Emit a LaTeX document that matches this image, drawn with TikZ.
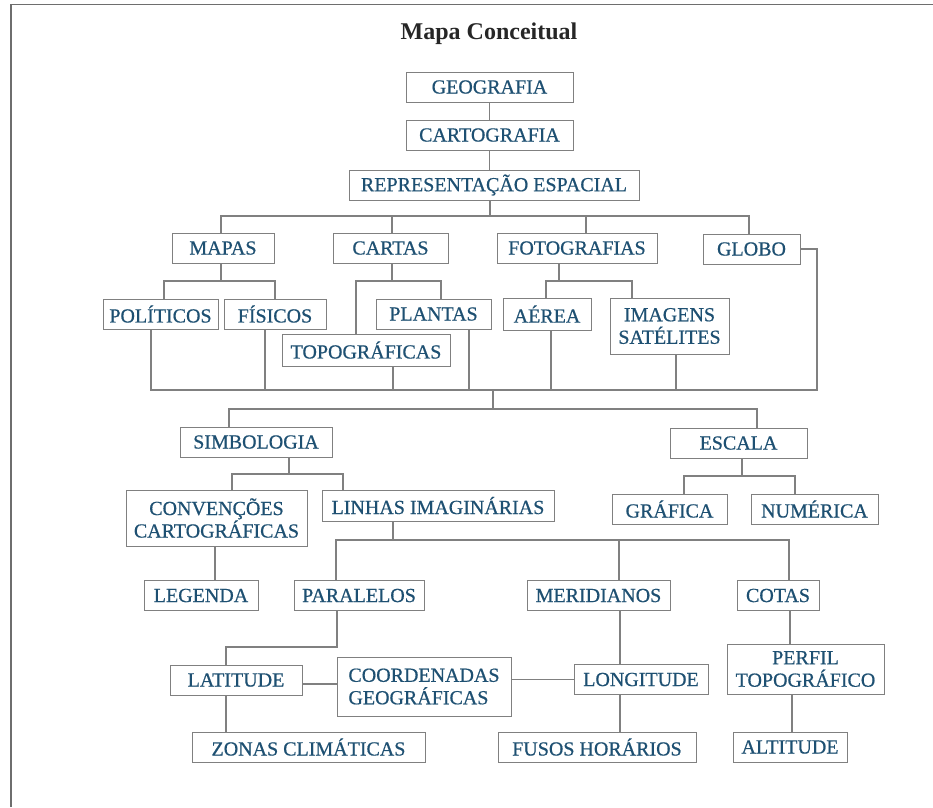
\documentclass[tikz,border=0pt]{standalone}
\usepackage{fontspec}
\setmainfont{Liberation Serif}
\newfontface\boxfont{Liberation Serif}[FakeBold=0.6]
\usetikzlibrary{positioning}
\definecolor{txtblue}{RGB}{30,80,114}
\definecolor{boxgray}{RGB}{128,128,128}
\definecolor{framegray}{RGB}{110,110,110}
\tikzset{
  box/.style={draw=boxgray, line width=1pt, fill=white, text=txtblue,
    font=\boxfont\fontsize{20}{22.5}\selectfont, inner sep=2pt, align=center,
    minimum height=30pt},
  link/.style={draw=boxgray, line width=1.1pt}
}

\begin{document}
\begin{tikzpicture}[x=1pt, y=-1pt]
      \useasboundingbox (0,0) rectangle (933,807);
      \draw[framegray, line width=1.2pt] (11,807) |- (933,4.5);
      \node[font=\bfseries\fontsize{24}{28}\selectfont, text=black!85] (title) at (489,34) {Mapa Conceitual};

      \node[box, minimum width=167pt] (geo) at (489.5,87) {GEOGRAFIA};
      \node[box, minimum width=167pt, below=17pt of geo] (carto) {CARTOGRAFIA};
      \node[box, minimum width=290pt, below=19pt of carto, xshift=4.5pt] (rep) {REPRESENTAÇÃO ESPACIAL};

      \node[box, minimum width=102pt] (mapas) at (223,248) {MAPAS};
      \node[box, minimum width=115pt, right=58pt of mapas] (cartas) {CARTAS};
      \node[box, minimum width=160pt, right=48pt of cartas] (foto) {FOTOGRAFIAS};
      \node[box, minimum width=97pt, right=45pt of foto, yshift=-1pt] (globo) {GLOBO};

      \node[box, minimum width=115pt] (politicos) at (160.5,314) {POLÍTICOS};
      \node[box, minimum width=102pt, right=5pt of politicos] (fisicos) {FÍSICOS};
      \node[box, minimum width=115pt, right=49pt of fisicos] (plantas) {PLANTAS};
      \node[box, minimum width=88pt, minimum height=32pt, right=11pt of plantas] (aerea) {AÉREA};
      \node[box, minimum width=119pt, minimum height=56pt, right=18pt of aerea.north east, anchor=north west] (imagens) {IMAGENS\\SATÉLITES};
      \node[box, minimum width=168pt, minimum height=32pt] (topo) at (366,350) {TOPOGRÁFICAS};

      \node[box, minimum width=152pt] (simbologia) at (256,442) {SIMBOLOGIA};
      \node[box, minimum width=137pt] (escala) at (738.5,443) {ESCALA};

      \node[box, minimum width=181pt, minimum height=56pt] (convencoes) at (216.5,518) {CONVENÇÕES\\CARTOGRÁFICAS};
      \node[box, minimum width=232pt, minimum height=31pt, right=14pt of convencoes.north east, anchor=north west] (linhas) {LINHAS IMAGINÁRIAS};
      \node[box, minimum width=115pt] (grafica) at (669.5,509) {GRÁFICA};
      \node[box, minimum width=127pt, right=23pt of grafica] (numerica) {NUMÉRICA};

      \node[box, minimum width=114pt] (legenda) at (201,595.5) {LEGENDA};
      \node[box, minimum width=130pt, right=35pt of legenda] (paralelos) {PARALELOS};
      \node[box, minimum width=143pt, right=102pt of paralelos] (meridianos) {MERIDIANOS};
      \node[box, minimum width=82pt, right=66pt of meridianos] (cotas) {COTAS};

      \node[box, minimum width=132pt] (latitude) at (236,680) {LATITUDE};
      \node[box, minimum width=174pt, minimum height=59pt, align=left] (coord) at (424,686.5) {COORDENADAS\\GEOGRÁFICAS};
      \node[box, minimum width=134pt] (longitude) at (641,679.5) {LONGITUDE};
      \node[box, minimum width=157pt, minimum height=50pt] (perfil) at (805.5,669) {PERFIL\\TOPOGRÁFICO};

      \node[box, minimum width=233pt] (zonas) at (308.5,747) {ZONAS CLIMÁTICAS};
      \node[box, minimum width=198pt] (fusos) at (597,747) {FUSOS HORÁRIOS};
      \node[box, minimum width=114pt] (altitude) at (790,747) {ALTITUDE};

      \coordinate (busA) at (490,216);
      \coordinate (busM) at (221,281);
      \coordinate (busC) at (392,281);
      \coordinate (busF) at (559,281);
      \coordinate (busR) at (493,390);
      \coordinate (busG) at (817,390);
      \coordinate (busS) at (493,409);
      \coordinate (busSi) at (289,474);
      \coordinate (busE) at (742,476);
      \coordinate (busL) at (393,540);
      \coordinate (kneeP) at (226,647);

      \draw[link] (geo) -- (carto);
      \draw[link] (carto.south) -- (carto.south |- rep.north);
      \draw[link] (busA |- rep.south) -- (busA);
      \draw[link] ([xshift=-2pt]mapas.north) |- (busA) -| ([xshift=-2.5pt]globo.north);
      \draw[link] ([xshift=1.5pt]cartas.north) -- ([xshift=1.5pt]cartas.north |- busA);
      \draw[link] ([xshift=9pt]foto.north) -- ([xshift=9pt]foto.north |- busA);

      \draw[link] (busM |- mapas.south) -- (busM);
      \draw[link] ([xshift=3.5pt]politicos.north) |- (busM) -| (fisicos.north);
      \draw[link] (busC |- cartas.south) -- (busC);
      \draw[link] ([xshift=-10pt]topo.north) |- (busC) -| ([xshift=7.5pt]plantas.north);
      \draw[link] (busF |- foto.south) -- (busF);
      \draw[link] ([xshift=-1pt]aerea.north) |- (busF) -| ([xshift=-37.5pt]imagens.north);

      \draw[link] ([xshift=-9.5pt]politicos.south) |- (busG) |- (globo.east);
      \draw[link] ([xshift=-10pt]fisicos.south) -- ([xshift=-10pt]fisicos.south |- busR);
      \draw[link] ([xshift=27pt]topo.south) -- ([xshift=27pt]topo.south |- busR);
      \draw[link] ([xshift=35.5pt]plantas.south) -- ([xshift=35.5pt]plantas.south |- busR);
      \draw[link] ([xshift=4pt]aerea.south) -- ([xshift=4pt]aerea.south |- busR);
      \draw[link] ([xshift=6.5pt]imagens.south) -- ([xshift=6.5pt]imagens.south |- busR);

      \draw[link] (busR) -- (busS);
      \draw[link] ([xshift=-27pt]simbologia.north) |- (busS) -| ([xshift=18.5pt]escala.north);
      \draw[link] (busSi |- simbologia.south) -- (busSi);
      \draw[link] ([xshift=15.5pt]convencoes.north) |- (busSi) -| ([xshift=-95pt]linhas.north);
      \draw[link] (busE |- escala.south) -- (busE);
      \draw[link] ([xshift=14.5pt]grafica.north) |- (busE) -| ([xshift=-19.5pt]numerica.north);

      \draw[link] ([xshift=-1.5pt]convencoes.south) -- ([xshift=-1.5pt]convencoes.south |- legenda.north);
      \draw[link] (busL |- linhas.south) -- (busL);
      \draw[link] ([xshift=-23pt]paralelos.north) |- (busL) -| ([xshift=11pt]cotas.north);
      \draw[link] ([xshift=20.5pt]meridianos.north) -- ([xshift=20.5pt]meridianos.north |- busL);

      \draw[link] ([xshift=-22pt]paralelos.south) |- (kneeP) -- (kneeP |- latitude.north);
      \draw[link] ([yshift=-4pt]latitude.east) -- ([yshift=-4pt]latitude.east -| coord.west);
      \draw[link] (coord.east |- longitude.west) -- (longitude.west);
      \draw[link] ([xshift=-21pt]longitude.north) -- ([xshift=-21pt]longitude.north |- meridianos.south);
      \draw[link] ([xshift=-21pt]longitude.south) -- ([xshift=-21pt]longitude.south |- fusos.north);
      \draw[link] (kneeP |- latitude.south) -- (kneeP |- zonas.north);
      \draw[link] ([xshift=12pt]cotas.south) -- ([xshift=12pt]cotas.south |- perfil.north);
      \draw[link] ([xshift=2pt]altitude.north) -- ([xshift=2pt]altitude.north |- perfil.south);
\end{tikzpicture}
\end{document}
